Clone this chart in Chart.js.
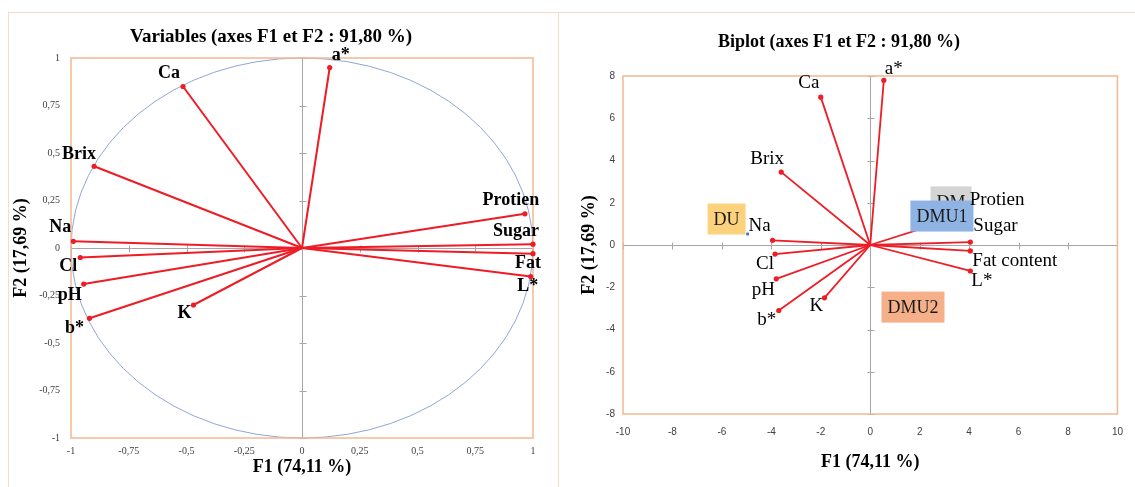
<!DOCTYPE html>
<html>
<head>
<meta charset="utf-8">
<script src="https://cdn.jsdelivr.net/npm/chart.js@4.4.1/dist/chart.umd.min.js"></script>
<style>
    html, body { margin: 0; padding: 0; background: #fff; width: 1135px; height: 487px; overflow: hidden; }
    .frame { position: absolute; border: 1px solid #f8dac6; box-sizing: border-box; }
    .holder { position: absolute; }
</style>
</head>
<body>
<div class="frame" style="left:8px;top:12px;width:551px;height:520px"></div>
<div class="frame" style="left:558px;top:12px;width:600px;height:520px"></div>
<div class="holder" style="left:9px;top:13px;width:548px;height:470px"><canvas id="chartVar"></canvas></div>
<div class="holder" style="left:559px;top:13px;width:576px;height:474px"><canvas id="chartBiplot"></canvas></div>

<script>
// =============================================================================
// PCA - correlatiecirkel en biplot (F1 x F2)
// =============================================================================

// variabelen (links: namen in de cirkel, rechts: namen in de biplot)
const varNamesL = ['a*', 'Ca', 'Brix', 'Na', 'Protien', 'Sugar', 'Fat', 'L*', 'Cl', 'pH', 'b*', 'K'];
const varNamesR = ['a*', 'Ca', 'Brix', 'Na', 'Protien', 'Sugar', 'Fat content', 'L*', 'Cl', 'pH', 'b*', 'K'];

// correlaties met F1 / F2
const corF1 = [0.12, -0.515, -0.90, -0.99, 0.965, 1.0, 1.0, 0.99, -0.96, -0.945, -0.92, -0.47];
const corF2 = [0.95, 0.85, 0.43, 0.035, 0.18, 0.02, -0.03, -0.15, -0.05, -0.19, -0.37, -0.30];

// biplot coordinaten van de variabelen
const biF1 = [0.55, -2.0, -3.6, -3.95, 3.9, 4.05, 4.05, 4.05, -3.85, -3.8, -3.7, -1.85];
const biF2 = [7.8, 7.0, 3.45, 0.22, 1.45, 0.14, -0.28, -1.23, -0.43, -1.6, -3.1, -2.5];

// observaties
const obsNames = ['DU', 'DM', 'DMU1', 'DMU2'];
const obsF1 = [-4.96, 3.27, 2.9, 1.73];
const obsF2 = [0.52, 2.04, 1.37, -2.94];

// tick waarden
const corTicks = [-1, -0.75, -0.5, -0.25, 0, 0.25, 0.5, 0.75, 1];
const biTicksX = [-10, -8, -6, -4, -2, 0, 2, 4, 6, 8, 10];
const biTicksY = [-8, -6, -4, -2, 0, 2, 4, 6, 8];

// ---- opmaak ---------------------------------------------------------------
const RED = '#ee1c25';
const SERIF = "'Liberation Serif', 'Times New Roman', serif";

// label verschuiving t.o.v. het eindpunt [dx, dy, align]
const labelPosL = {
    'a*': [11, -12], 'Ca': [-14, -13], 'Brix': [-15, -12], 'Na': [-13, -14],
    'Protien': [-14, -13], 'Sugar': [-17, -13], 'Fat': [-5, 10], 'L*': [-3, 10],
    'Cl': [-12, 9], 'pH': [-14, 11], 'b*': [-15, 10], 'K': [-9, 8]
};
const labelPosR = {
    'a*': [10, -11], 'Ca': [-12, -14], 'Brix': [-14, -13], 'Na': [-13, -14],
    'Protien': [3, -14, 'left'], 'Sugar': [3, -16, 'left'], 'Fat content': [2, 10, 'left'], 'L*': [1, 10, 'left'],
    'Cl': [-10, 10], 'pH': [-13, 11], 'b*': [-12, 10], 'K': [-8, 8]
};
const boxStyle = {
    'DU': { bg: '#fdd27c', dx: -21, dy: -15 },
    'DM': { bg: '#d4d4d4', dx: 0, dy: 0 },
    'DMU1': { bg: '#8fb4e3', dx: 0, dy: 0 },
    'DMU2': { bg: '#f5b08a', dx: 0, dy: 0 }
};

const fmt = v => String(v).replace('.', ',');

const pcaDecor = {
    id: 'pcaDecor',
    beforeDatasetsDraw(chart, args, opts) {
        const { ctx, chartArea: a, scales: { x, y } } = chart;
        const x0 = Math.round(x.getPixelForValue(0)) + 0.5;
        const y0 = Math.round(y.getPixelForValue(0)) + 0.5;
        ctx.save();
        ctx.strokeStyle = '#a6a6a6';
        ctx.lineWidth = 1;
        ctx.beginPath();
        ctx.moveTo(a.left, y0); ctx.lineTo(a.right, y0);
        ctx.moveTo(x0, a.top); ctx.lineTo(x0, a.bottom);
        opts.xTicks.forEach(v => {
            const px = Math.round(x.getPixelForValue(v)) + 0.5;
            ctx.moveTo(px, y0 - 3); ctx.lineTo(px, y0 + 4);
        });
        opts.yTicks.forEach(v => {
            const py = Math.round(y.getPixelForValue(v)) + 0.5;
            ctx.moveTo(x0 - 3, py); ctx.lineTo(x0 + 4, py);
        });
        ctx.stroke();

        if (opts.circle) {
            const rx = x.getPixelForValue(1) - x.getPixelForValue(0);
            const ry = y.getPixelForValue(0) - y.getPixelForValue(1);
            ctx.strokeStyle = '#8ea6d6';
            ctx.beginPath();
            ctx.ellipse(x.getPixelForValue(0), y.getPixelForValue(0), rx, ry, 0, 0, Math.PI * 2);
            ctx.stroke();
        }

        ctx.strokeStyle = '#f4b891';
        ctx.lineWidth = 1.5;
        ctx.strokeRect(a.left, a.top, a.width, a.height);
        ctx.restore();
    },
    afterDatasetsDraw(chart, args, opts) {
        const { ctx, scales: { x, y } } = chart;
        ctx.save();
        ctx.textBaseline = 'middle';

        // observatie labels in gekleurde kaders
        const obs = chart.data.datasets.find(d => d.isObs);
        if (obs) {
            ctx.font = '18px ' + SERIF;
            obs.data.forEach((p, i) => {
                const st = boxStyle[obs.names[i]];
                const cx = x.getPixelForValue(p.x) + st.dx;
                const cy = y.getPixelForValue(p.y) + st.dy;
                const w = ctx.measureText(obs.names[i]).width + 12;
                const h = 31;
                ctx.fillStyle = st.bg;
                ctx.fillRect(cx - w / 2, cy - h / 2, w, h);
                ctx.fillStyle = '#1a1a1a';
                ctx.textAlign = 'center';
                ctx.fillText(obs.names[i], cx, cy + 1);
            });
        }

        // variabele labels
        ctx.font = opts.font;
        ctx.fillStyle = '#000';
        chart.data.datasets.filter(d => !d.isObs).forEach(d => {
            const end = d.data[1];
            const pos = opts.pos[d.label] || [0, 0];
            ctx.textAlign = pos[2] || 'center';
            ctx.fillText(d.label, x.getPixelForValue(end.x) + pos[0], y.getPixelForValue(end.y) + pos[1]);
        });
        ctx.restore();
    }
};

function vectorSets(names, xs, ys, width) {
    return names.map((n, i) => ({
        label: n,
        data: [{ x: 0, y: 0 }, { x: xs[i], y: ys[i] }],
        showLine: true,
        borderColor: RED,
        borderWidth: width,
        backgroundColor: RED,
        pointBackgroundColor: RED,
        pointBorderWidth: 0,
        pointRadius: [0, 2.6],
        clip: false
    }));
}

function axis(ticks, opt) {
    return {
        type: 'linear',
        min: ticks[0],
        max: ticks[ticks.length - 1],
        afterBuildTicks: s => { s.ticks = ticks.map(v => ({ value: v })); },
        afterFit: opt.fit,
        grid: { display: false, drawTicks: false },
        border: { display: false },
        ticks: {
            autoSkip: false, maxRotation: 0, padding: opt.pad,
            color: '#404040', font: opt.tickFont,
            callback: v => fmt(v)
        },
        title: {
            display: true, text: opt.title, color: '#000',
            font: { family: SERIF, size: 18, weight: 'bold' },
            padding: opt.titlePad
        }
    };
}

function baseOptions(titleText, titleSize, titlePad, padRight) {
    return {
        responsive: true,
        maintainAspectRatio: false,
        animation: false,
        layout: { padding: { left: 0, right: padRight, top: 0, bottom: 0 } },
        plugins: {
            legend: { display: false },
            tooltip: { enabled: false },
            title: {
                display: true, text: titleText, color: '#000',
                font: { family: SERIF, size: titleSize, weight: 'bold' },
                padding: titlePad
            }
        }
    };
}

function renderVariables() {
    const opts = baseOptions('Variables (axes F1 et F2 : 91,80 %)', 19, { top: 12.6, bottom: 9.6 }, 24);
    opts.scales = {
        x: axis(corTicks, {
            fit: s => { s.height = 45; }, pad: 7, title: 'F1 (74,11 %)',
            titlePad: { top: 0, bottom: 5 }, tickFont: { family: SERIF, size: 10 }
        }),
        y: axis(corTicks, {
            fit: s => { s.width = 62; }, pad: 11, title: 'F2 (17,69 %)',
            titlePad: { top: 2, bottom: 0 }, tickFont: { family: SERIF, size: 10 }
        })
    };
    opts.plugins.pcaDecor = {
        circle: true, xTicks: corTicks, yTicks: corTicks,
        pos: labelPosL, font: 'bold 18px ' + SERIF
    };
    new Chart(document.getElementById('chartVar'), {
        type: 'scatter',
        data: { datasets: vectorSets(varNamesL, corF1, corF2, 2) },
        options: opts,
        plugins: [pcaDecor]
    });
}

function renderBiplot() {
    const opts = baseOptions('Biplot (axes F1 et F2 : 91,80 %)', 18, { top: 19, bottom: 22.4 }, 16);
    const sans = { family: "'Liberation Sans', Arial, sans-serif", size: 10 };
    opts.scales = {
        x: axis(biTicksX, {
            fit: s => { s.height = 73; }, pad: 12, title: 'F1 (74,11 %)',
            titlePad: { top: 0, bottom: 14 }, tickFont: sans
        }),
        y: axis(biTicksY, {
            fit: s => { s.width = 64; }, pad: 8, title: 'F2 (17,69 %)',
            titlePad: { top: 20, bottom: 0 }, tickFont: sans
        })
    };
    opts.plugins.pcaDecor = {
        circle: false, xTicks: biTicksX, yTicks: biTicksY,
        pos: labelPosR, font: '19px ' + SERIF
    };
    const datasets = vectorSets(varNamesR, biF1, biF2, 1.8);
    datasets.push({
        label: 'Observations',
        isObs: true,
        names: obsNames,
        data: obsNames.map((n, i) => ({ x: obsF1[i], y: obsF2[i] })),
        pointStyle: 'rect',
        pointRadius: 2,
        pointBackgroundColor: '#4472c4',
        pointBorderWidth: 0,
        clip: false
    });
    new Chart(document.getElementById('chartBiplot'), {
        type: 'scatter',
        data: { datasets },
        options: opts,
        plugins: [pcaDecor]
    });
}

renderVariables();
renderBiplot();
</script>
</body>
</html>
